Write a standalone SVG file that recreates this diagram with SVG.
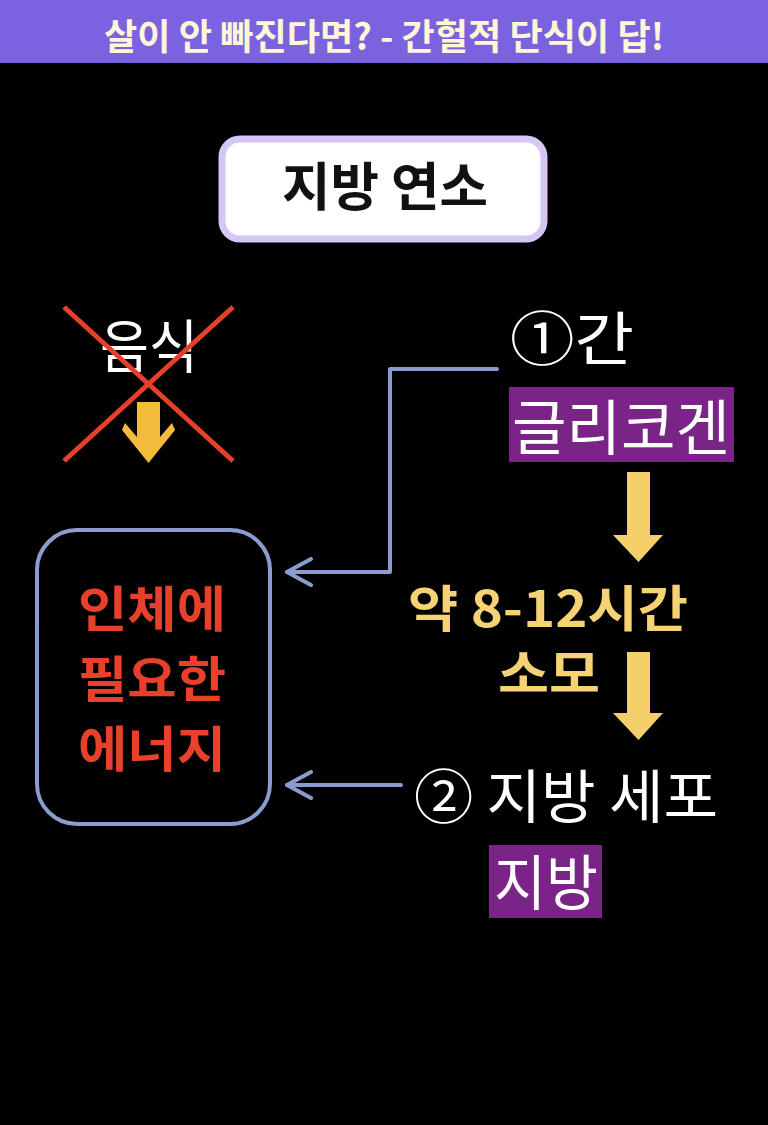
<svg xmlns="http://www.w3.org/2000/svg" width="768" height="1125" viewBox="0 0 768 1125">
<style>
text{font-family:"Noto Sans CJK KR","Noto Sans",sans-serif;text-anchor:middle}
.conn{fill:none;stroke:#8C9BD0;stroke-width:4;stroke-linecap:round;stroke-linejoin:round}
.yarrow{fill:#F5D06A}
.hl{fill:#7A2488}
.red{font-size:49px;font-weight:bold;fill:#E8402A}
</style>
<defs>
<marker id="open" viewBox="0 0 30 30" refX="27" refY="15" markerWidth="30" markerHeight="30" markerUnits="userSpaceOnUse" orient="auto">
<path d="M3 2 L27 15 L3 28" fill="none" stroke="#8C9BD0" stroke-width="4" stroke-linecap="round" stroke-linejoin="round"/>
</marker>
</defs>
<rect x="0" y="0" width="768" height="1125" fill="#000000"/>
<g id="header">
<rect x="0" y="0" width="768" height="63" fill="#7B62DF"/>
<text x="384" y="50" font-size="36" font-weight="bold" fill="#FFF6D8" textLength="560" lengthAdjust="spacingAndGlyphs">살이 안 빠진다면? -  간헐적 단식이 답!</text>
</g>
<g id="title">
<rect x="222" y="139" width="322" height="100" rx="18" fill="#FFFFFF" stroke="#D6C6F4" stroke-width="7"/>
<text x="385" y="206" font-size="52" font-weight="bold" fill="#111111" textLength="206" lengthAdjust="spacingAndGlyphs">지방 연소</text>
</g>
<g id="food">
<text x="149" y="368" font-size="58" fill="#FFFFFF" textLength="98" lengthAdjust="spacingAndGlyphs">음식</text>
<line x1="64" y1="307" x2="233" y2="461" stroke="#E6402B" stroke-width="5"/>
<line x1="233" y1="307" x2="64" y2="461" stroke="#E6402B" stroke-width="5"/>
<polygon points="137,402 160,402 160,437 172,423 175,430 148.5,463 122,430 125,423 137,437" fill="#F2BB3C"/>
</g>
<g id="liver">
<text x="572" y="360" font-size="58" fill="#FFFFFF" textLength="124" lengthAdjust="spacingAndGlyphs">①간</text>
<rect class="hl" x="509" y="387" width="225" height="75"/>
<text x="621" y="450" font-size="60" fill="#FFFFFF" textLength="218" lengthAdjust="spacingAndGlyphs">글리코겐</text>
</g>
<g id="energy">
<rect x="37" y="530" width="233" height="294" rx="40" fill="#000000" stroke="#8C9BD0" stroke-width="4"/>
<text class="red" x="152" y="627" textLength="148" lengthAdjust="spacingAndGlyphs">인체에</text>
<text class="red" x="152" y="697" textLength="148" lengthAdjust="spacingAndGlyphs">필요한</text>
<text class="red" x="152" y="767" textLength="148" lengthAdjust="spacingAndGlyphs">에너지</text>
</g>
<g id="time">
<polygon class="yarrow" points="627,472 650,472 650,535 663,535 638.5,562 613,535 627,535"/>
<text x="548" y="627" font-size="50" font-weight="bold" fill="#F5D273" textLength="280" lengthAdjust="spacingAndGlyphs">약 8-12시간</text>
<text x="549" y="692" font-size="50" font-weight="bold" fill="#F5D273" textLength="102" lengthAdjust="spacingAndGlyphs">소모</text>
<polygon class="yarrow" points="627,652 650,652 650,713 663,713 638.5,740 613,713 627,713"/>
</g>
<g id="fatcell">
<text x="566" y="818" font-size="58" fill="#FFFFFF" textLength="304" lengthAdjust="spacingAndGlyphs">② 지방 세포</text>
<rect class="hl" x="489" y="845" width="113" height="73"/>
<text x="546" y="905" font-size="60" fill="#FFFFFF" textLength="104" lengthAdjust="spacingAndGlyphs">지방</text>
</g>
<g id="connectors">
<path class="conn" d="M497 369 L390 369 L390 572 L287 572" marker-end="url(#open)"/>
<path class="conn" d="M401 785 L287 785" marker-end="url(#open)"/>
</g>
</svg>
